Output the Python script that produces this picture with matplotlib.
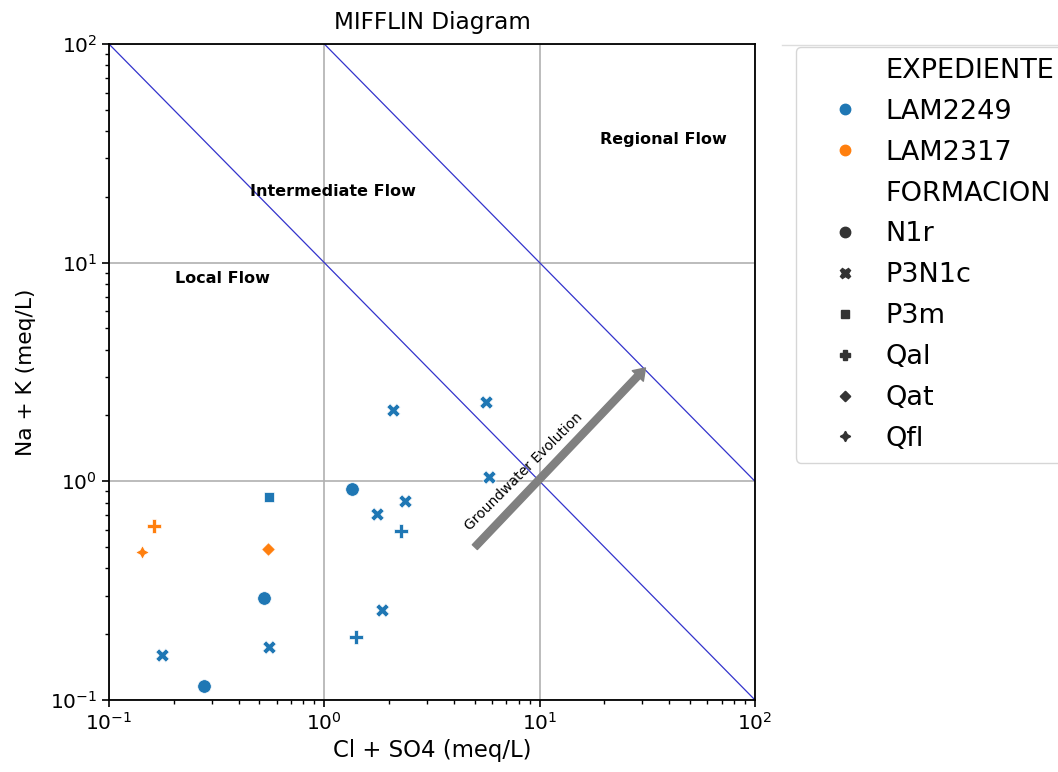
import matplotlib
matplotlib.use('Agg')
import matplotlib.pyplot as plt
from matplotlib.lines import Line2D

# sample values (Cl + SO4, Na + K in meq/L)
expediente = ['LAM2249'] * 14 + ['LAM2317'] * 3
formacion = ['N1r', 'N1r', 'N1r',
             'P3N1c', 'P3N1c', 'P3N1c', 'P3N1c', 'P3N1c', 'P3N1c', 'P3N1c', 'P3N1c',
             'P3m', 'Qal', 'Qal',
             'Qal', 'Qat', 'Qfl']
cl_so4 = [0.276, 0.525, 1.34,
          0.177, 0.553, 2.08, 2.37, 1.75, 1.85, 5.64, 5.84,
          0.553, 2.27, 1.40,
          0.162, 0.55, 0.142]
na_k = [0.116, 0.292, 0.919,
        0.161, 0.174, 2.13, 0.815, 0.709, 0.258, 2.31, 1.05,
        0.851, 0.593, 0.194,
        0.625, 0.49, 0.473]

exp_order = ['LAM2249', 'LAM2317']
form_order = ['N1r', 'P3N1c', 'P3m', 'Qal', 'Qat', 'Qfl']
colors = {'LAM2249': '#1f77b4', 'LAM2317': '#ff7f0e'}
markers = {'N1r': 'o', 'P3N1c': 'X', 'P3m': (4, 0, 45),
           'Qal': 'P', 'Qat': (4, 0, 0), 'Qfl': (4, 1, 0)}

fig = plt.figure(figsize=(10.58, 7.72), dpi=100)
ax = fig.add_axes([0.103, 0.0933, 0.6106, 0.8497])

for e in exp_order:
    for f in form_order:
        xs = [x for x, ee, ff in zip(cl_so4, expediente, formacion) if ee == e and ff == f]
        ys = [y for y, ee, ff in zip(na_k, expediente, formacion) if ee == e and ff == f]
        if xs:
            ax.scatter(xs, ys, s=95, marker=markers[f], color=colors[e],
                       edgecolors='white', linewidths=0.5, zorder=3)

# flow boundaries
ax.plot([0.1, 100], [100, 0.1], color='#3333cc', lw=0.9, zorder=2)
ax.plot([1, 100], [100, 1], color='#3333cc', lw=0.9, zorder=2)

ax.annotate('', xy=(31, 3.3), xytext=(5, 0.5),
            arrowprops=dict(facecolor='gray', edgecolor='gray', width=5,
                            headwidth=11, headlength=8), zorder=4)
ax.text(8.4, 1.11, 'Groundwater Evolution', rotation=45, fontsize=10,
        ha='center', va='center', rotation_mode='anchor')

ax.text(37.4, 36.7, 'Regional Flow', fontsize=11.5, fontweight='bold', ha='center', va='center')
ax.text(1.10, 21.2, 'Intermediate Flow', fontsize=11.5, fontweight='bold', ha='center', va='center')
ax.text(0.335, 8.5, 'Local Flow', fontsize=11.5, fontweight='bold', ha='center', va='center')

ax.set_xscale('log')
ax.set_yscale('log')
ax.set_xlim(0.1, 100)
ax.set_ylim(0.1, 100)
ax.grid(True, which='major', color='#b0b0b0', lw=1.2)
ax.set_axisbelow(True)
for sp in ax.spines.values():
    sp.set_linewidth(1.3)
ax.tick_params(which='major', labelsize=14.5, length=5, width=1.2)
ax.tick_params(which='minor', length=3, width=1)

ax.set_title('MIFFLIN Diagram', fontsize=16.7, pad=11)
ax.set_xlabel('Cl + SO4 (meq/L)', fontsize=16.4)
ax.set_ylabel('Na + K (meq/L)', fontsize=15.7, labelpad=10)

# seaborn style legend with group headers
handles = [Line2D([], [], linestyle='', marker='')]
labels = ['EXPEDIENTE']
for e in exp_order:
    handles.append(Line2D([], [], linestyle='', marker='o', color=colors[e], markersize=7.5))
    labels.append(e)
handles.append(Line2D([], [], linestyle='', marker=''))
labels.append('FORMACION')
for f in form_order:
    handles.append(Line2D([], [], linestyle='', marker=markers[f], color='#333333', markersize=7.5))
    labels.append(f)
ax.legend(handles, labels, loc='upper left', bbox_to_anchor=(1.0635, 0.9954),
          borderaxespad=0, fontsize=19.5, labelspacing=0.55,
          handlelength=2.8, handletextpad=0.1, frameon=True)

fig.add_artist(Line2D([782 / 1058, 1], [1 - 45 / 772, 1 - 45 / 772], color='#dddddd', lw=1))

plt.savefig('out.png', dpi=100)
